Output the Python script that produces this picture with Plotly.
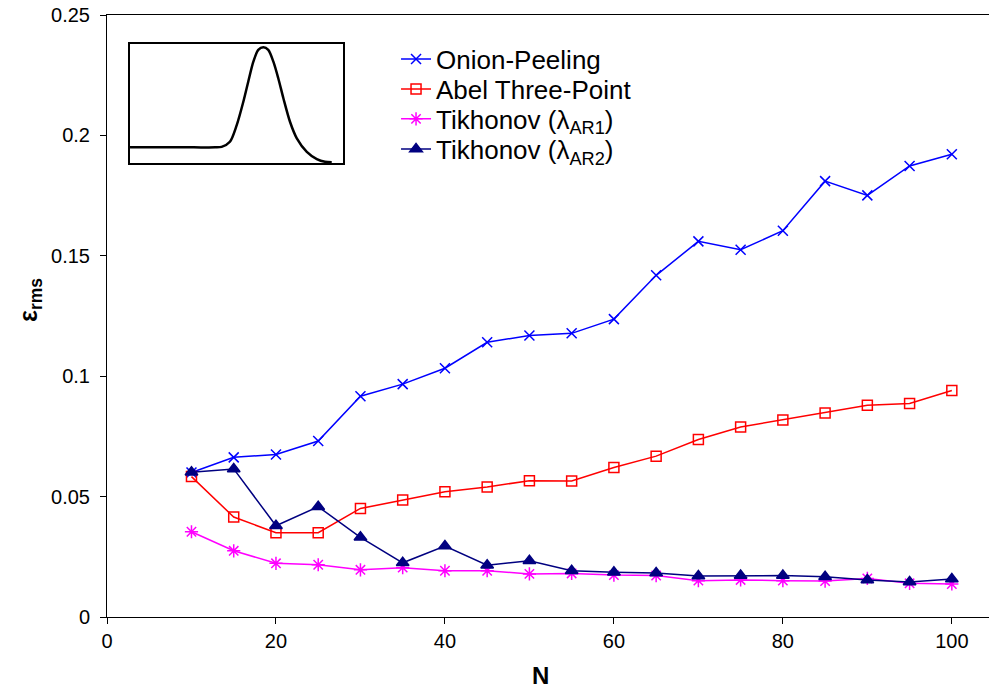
import plotly.graph_objects as go

N = [10, 15, 20, 25, 30, 35, 40, 45, 50, 55, 60, 65, 70, 75, 80, 85, 90, 95, 100]
onion = [0.0600, 0.0663, 0.0675, 0.0731, 0.0917, 0.0967, 0.1033, 0.1141, 0.1169, 0.1178, 0.1237,
         0.1419, 0.1560, 0.1525, 0.1604, 0.1810, 0.1751, 0.1873, 0.1922]
abel = [0.0583, 0.0415, 0.0350, 0.0350, 0.0451, 0.0486, 0.0520, 0.0540, 0.0566, 0.0565, 0.0621,
        0.0668, 0.0737, 0.0789, 0.0818, 0.0847, 0.0879, 0.0887, 0.0941]
ar1 = [0.0354, 0.0275, 0.0223, 0.0217, 0.0196, 0.0205, 0.0192, 0.0192, 0.0179, 0.0181, 0.0174,
       0.0172, 0.0151, 0.0154, 0.0151, 0.0149, 0.0160, 0.0140, 0.0137]
ar2 = [0.0601, 0.0615, 0.0379, 0.0458, 0.0331, 0.0225, 0.0295, 0.0215, 0.0234, 0.0192, 0.0186,
       0.0183, 0.0170, 0.0172, 0.0172, 0.0167, 0.0154, 0.0145, 0.0158]

names = ["Onion-Peeling", "Abel Three-Point", "Tikhonov (λ<sub>AR1</sub>)", "Tikhonov (λ<sub>AR2</sub>)"]

# inset profile sketch
inset_x = [0, 15, 30, 40, 43.0, 46.9, 50.1, 53.2, 55.5, 57.9, 60.2, 62.6, 64.9, 67.3, 69.6, 72.0,
           75.1, 78.3, 83.0, 87.7, 91.5, 94.7]
inset_y = [0.132, 0.132, 0.132, 0.132, 0.136, 0.179, 0.319, 0.515, 0.683, 0.851, 0.950, 0.972,
           0.950, 0.851, 0.712, 0.544, 0.347, 0.208, 0.095, 0.034, 0.011, 0.008]

FONT = "Arial, Liberation Sans, sans-serif"

styles = [
    dict(color="#0000FF", symbol="x-thin-open", size=10),
    dict(color="#FF0000", symbol="square-open", size=10),
    dict(color="#FF00FF", symbol="asterisk-open", size=11),
    dict(color="#000080", symbol="triangle-up", size=11),
]
series = [onion, abel, ar1, ar2]
legend_ids = ["legend", "legend2", "legend3", "legend4"]
legend_rows = [0.9269, 0.8770, 0.8273, 0.7774]

fig = go.Figure()
for s, st, nm, lg in zip(series, styles, names, legend_ids):
    fig.add_trace(go.Scatter(x=N, y=s, name=nm, mode="lines+markers", legend=lg,
                             line=dict(color=st["color"], width=1.5),
                             marker=dict(symbol=st["symbol"], size=st["size"], color=st["color"],
                                         line=dict(color=st["color"], width=1.5))))

fig.add_trace(go.Scatter(x=inset_x, y=inset_y, xaxis="x2", yaxis="y2", mode="lines",
                         line=dict(color="black", width=2.5, shape="spline", smoothing=0.8),
                         showlegend=False, hoverinfo="skip"))

legend_layout = {}
for lg, yy in zip(legend_ids, legend_rows):
    legend_layout[lg] = dict(x=0.3277, y=yy, xanchor="left", yanchor="middle",
                             font=dict(family=FONT, size=26, color="black"),
                             bgcolor="rgba(0,0,0,0)", borderwidth=0)

fig.update_layout(
    width=989, height=692,
    margin=dict(l=107, r=0, t=15, b=75),
    paper_bgcolor="white", plot_bgcolor="white",
    font=dict(family=FONT, color="black", size=20),
    showlegend=True,
    **legend_layout,
    xaxis=dict(range=[0, 104.4], tickvals=[0, 20, 40, 60, 80, 100], showgrid=False, zeroline=False,
               showline=True, linecolor="black", linewidth=1, mirror=True,
               ticks="outside", ticklen=6, tickcolor="black",
               tickfont=dict(family=FONT, size=20)),
    yaxis=dict(range=[0, 0.25], tickvals=[0, 0.05, 0.1, 0.15, 0.2, 0.25],
               ticktext=["0", "0.05", "0.1", "0.15", "0.2", "0.25"],
               showgrid=False, zeroline=False,
               showline=True, linecolor="black", linewidth=1,
               ticks="outside", ticklen=6, tickcolor="black", ticklabelstandoff=6,
               tickfont=dict(family=FONT, size=20)),
    xaxis2=dict(domain=[0.0261, 0.2676], anchor="y2", range=[0, 100], showgrid=False,
                zeroline=False, showticklabels=False, ticks="", showline=True,
                linecolor="black", linewidth=2, mirror=True, fixedrange=True),
    yaxis2=dict(domain=[0.754, 0.952], anchor="x2", range=[0, 1], showgrid=False,
                zeroline=False, showticklabels=False, ticks="", showline=True,
                linecolor="black", linewidth=2, mirror=True, fixedrange=True),
    annotations=[
        dict(text="<b>ε<sub>rms</sub></b>", xref="paper", yref="paper", x=-0.0873, y=0.5266,
             xanchor="center", yanchor="middle", textangle=-90, showarrow=False,
             font=dict(family=FONT, size=25, color="black")),
        dict(text="<b>N</b>", xref="paper", yref="paper", x=0.492, y=-0.098,
             xanchor="center", yanchor="middle", showarrow=False,
             font=dict(family=FONT, size=24, color="black")),
    ],
)

fig.write_html("out.html")
